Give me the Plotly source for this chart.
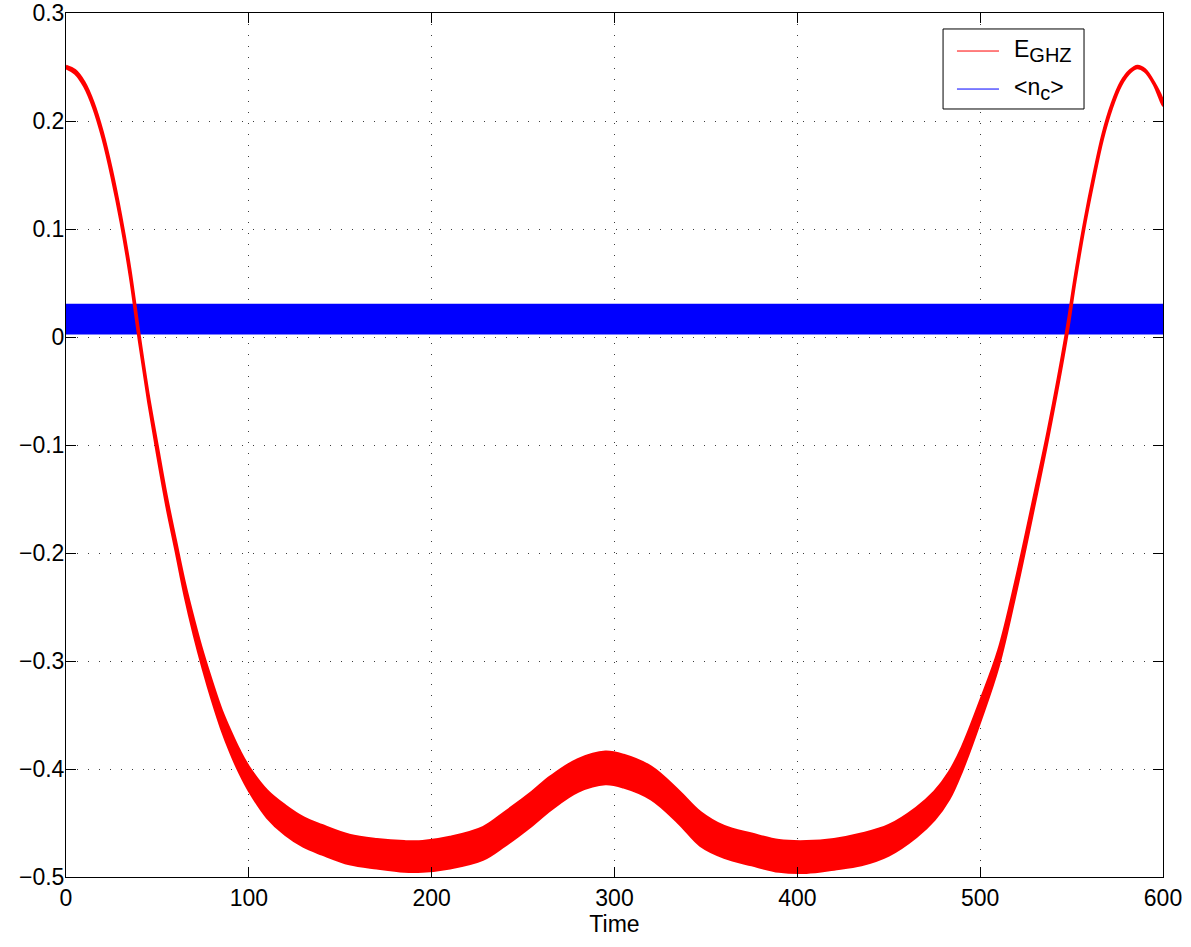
import plotly.graph_objects as go

# E_GHZ envelope (upper / lower edge of the fast oscillation)
t_ghz = [0, 5, 10, 15, 20, 25, 30, 35, 40, 45, 50, 55, 60, 65, 70, 75, 80, 85, 90, 95,
         100, 110, 120, 130, 140, 155, 170, 185, 195, 210, 228, 240, 255, 265, 280, 295,
         305, 320, 335, 347, 360, 375, 390, 405, 420, 435, 450, 465, 475, 483, 490, 500,
         510, 520, 530, 537, 547, 552, 557, 562, 567, 572, 577, 582, 586, 590, 595, 600]
ghz_upper = [0.251, 0.247, 0.236, 0.217, 0.190, 0.155, 0.113, 0.064, 0.004, -0.052,
             -0.100, -0.147, -0.188, -0.228, -0.262, -0.293, -0.320, -0.345, -0.365, -0.383,
             -0.398, -0.420, -0.434, -0.445, -0.452, -0.461, -0.465, -0.467, -0.467, -0.463,
             -0.454, -0.440, -0.421, -0.407, -0.391, -0.384, -0.387, -0.398, -0.420, -0.440,
             -0.453, -0.460, -0.466, -0.467, -0.465, -0.460, -0.452, -0.436, -0.421, -0.403,
             -0.380, -0.337, -0.290, -0.221, -0.143, -0.087, 0.004, 0.058, 0.107, 0.150,
             0.188, 0.216, 0.236, 0.247, 0.251, 0.248, 0.236, 0.218]
ghz_lower = [0.249, 0.244, 0.232, 0.212, 0.184, 0.148, 0.106, 0.056, -0.004, -0.060,
             -0.110, -0.157, -0.198, -0.240, -0.276, -0.308, -0.337, -0.363, -0.385, -0.404,
             -0.420, -0.445, -0.461, -0.472, -0.479, -0.488, -0.492, -0.495, -0.495, -0.492,
             -0.484, -0.471, -0.452, -0.438, -0.421, -0.414, -0.417, -0.428, -0.450, -0.471,
             -0.482, -0.489, -0.495, -0.496, -0.493, -0.489, -0.480, -0.463, -0.447, -0.428,
             -0.402, -0.356, -0.305, -0.233, -0.153, -0.095, -0.004, 0.051, 0.101, 0.144,
             0.183, 0.212, 0.233, 0.245, 0.249, 0.246, 0.234, 0.214]

# <n_c> envelope
t_nc = [0, 600]
nc_upper = [0.030, 0.030]
nc_lower = [0.003, 0.003]

series_names = ["E<sub><span style='font-size:20px'>GHZ</span></sub>",
                "&lt;n<sub><span style='font-size:20px'>c</span></sub>&gt;"]
series_colors = ["rgb(255,0,0)", "rgb(0,0,255)"]

x_ticks = [0, 100, 200, 300, 400, 500, 600]
y_ticks = [-0.5, -0.4, -0.3, -0.2, -0.1, 0, 0.1, 0.2, 0.3]
y_labels = ["\u22120.5", "\u22120.4", "\u22120.3", "\u22120.2", "\u22120.1", "0", "0.1", "0.2", "0.3"]

FONT = "Liberation Sans, Arial, Helvetica, sans-serif"

fig = go.Figure()

# blue band
fig.add_trace(go.Scatter(
    x=t_nc + t_nc[::-1], y=nc_upper + nc_lower[::-1],
    mode="lines", fill="toself", fillcolor=series_colors[1],
    line=dict(color=series_colors[1], width=1.5), showlegend=False, hoverinfo="skip"))
# red band
fig.add_trace(go.Scatter(
    x=t_ghz + t_ghz[::-1], y=ghz_upper + ghz_lower[::-1],
    mode="lines", fill="toself", fillcolor=series_colors[0],
    line=dict(color=series_colors[0], width=2.5, shape="spline", smoothing=1.0),
    showlegend=False, hoverinfo="skip"))

axis_common = dict(
    showline=True, linecolor="black", linewidth=1, mirror="allticks",
    ticks="inside", ticklen=10, tickcolor="black", tickwidth=1,
    showgrid=True, gridcolor="rgb(60,60,60)", gridwidth=1, griddash="1px,10px",
    zeroline=False, automargin=False, ticklabeloverflow="allow",
    tickfont=dict(family=FONT, size=23, color="black"),
)

fig.update_xaxes(range=[0, 600], tickvals=x_ticks, ticktext=[str(v) for v in x_ticks],
                 title=dict(text="Time", font=dict(family=FONT, size=23, color="black"), standoff=2),
                 **axis_common)
fig.update_yaxes(range=[-0.5, 0.3], tickvals=y_ticks, ticktext=y_labels,
                 ticklabelstandoff=-4, **axis_common)

# legend box (paper coordinates)
LX0, LX1, LY0, LY1 = 0.7995, 0.928, 0.8889, 0.9815
row_y = [0.9560, 0.9120]
shapes = [dict(type="rect", xref="paper", yref="paper", x0=LX0, x1=LX1, y0=LY0, y1=LY1,
               line=dict(color="black", width=1), fillcolor="white", layer="above")]
annotations = []
for name, col, yy in zip(series_names, series_colors, row_y):
    shapes.append(dict(type="line", xref="paper", yref="paper", x0=0.8122, x1=0.8505,
                       y0=yy, y1=yy, line=dict(color=col, width=1), layer="above"))
    annotations.append(dict(xref="paper", yref="paper", x=0.8625, y=yy, text=name,
                            showarrow=False, xanchor="left", yanchor="middle",
                            font=dict(family=FONT, size=23, color="black")))

fig.update_layout(
    width=1191, height=947,
    margin=dict(l=66, r=28, t=13, b=70, autoexpand=False),
    paper_bgcolor="white", plot_bgcolor="white",
    font=dict(family=FONT, color="black"),
    showlegend=False,
    shapes=shapes, annotations=annotations,
)

fig.write_html("out.html", config={"displayModeBar": False},
               post_script="document.body.style.margin='0';")
